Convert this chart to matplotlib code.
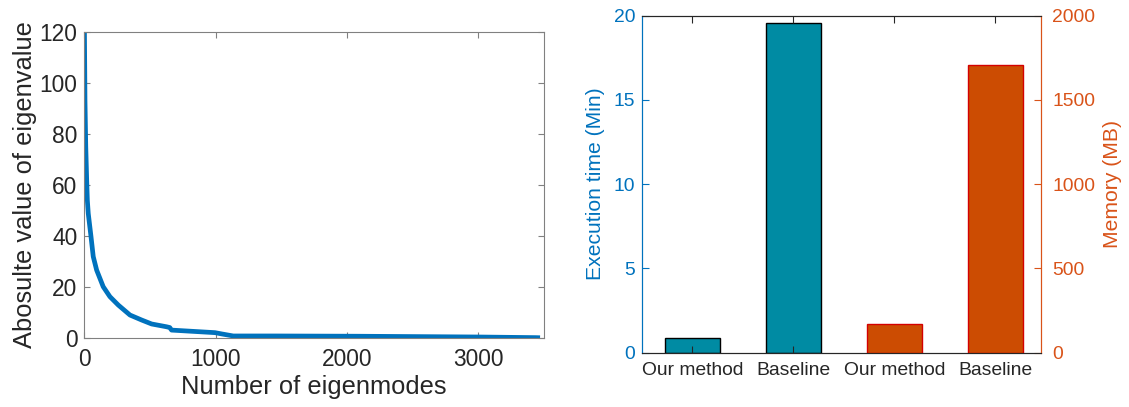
import matplotlib.pyplot as plt
import numpy as np

plt.rcParams['font.family'] = ['Liberation Sans', 'DejaVu Sans']

# eigenvalue spectrum (sorted, absolute value)
modes = [0, 4, 10, 17, 22, 29, 50, 67, 93, 143, 194, 258, 347, 436, 512,
         626, 650, 664, 995, 1046, 1134, 1452, 2077, 3000, 3437, 3472]
eigvals = [120, 93, 75, 62, 54, 48.8, 39.7, 31.9, 26.6, 20.1, 16.2, 12.9,
           9.0, 7.05, 5.5, 4.4, 4.1, 3.1, 2.1, 1.6, 0.8, 0.8, 0.7, 0.4,
           0.15, 0.1]

# cost comparison
methods = ["Our method", "Baseline", "Our method", "Baseline"]
exec_time = [0.87, 19.58]       # minutes
memory = [170, 1707]            # MB

BLUE = "#0072BD"
ORANGE = "#D95319"
DARK = "#262626"

fig = plt.figure(figsize=(11.29, 4.07), dpi=100)

# --- left: eigenvalue decay ---
ax1 = fig.add_axes([0.0748, 0.1695, 0.4068, 0.7526])
ax1.plot(modes, eigvals, color=BLUE, lw=3.4, solid_capstyle='butt')
ax1.set_xlim(0, 3500)
ax1.set_ylim(0, 120)
ax1.set_xticks([0, 1000, 2000, 3000])
ax1.set_yticks(np.arange(0, 121, 20))
ax1.tick_params(direction='in', top=True, right=True, labelsize=16.4,
                colors='#808080', labelcolor=DARK, length=4)
ax1.tick_params(axis='x', pad=7)
ax1.tick_params(axis='y', pad=5)
for s in ax1.spines.values():
    s.set_color('#808080')
ax1.set_xlabel("Number of eigenmodes", fontsize=18.4, color=DARK, labelpad=3)
ax1.set_ylabel("Abosulte value of eigenvalue", fontsize=18.4, color=DARK,
               labelpad=2)

# --- right: execution time and memory ---
ax2 = fig.add_axes([0.5686, 0.1334, 0.3534, 0.8285])
x = np.arange(1, 5)
ax2.bar(x[:2], exec_time, width=0.55, color="#008BA3", edgecolor="black", lw=1.0)
ax2.set_xlim(0.5, 4.45)
ax2.set_ylim(0, 20)
ax2.set_yticks([0, 5, 10, 15, 20])
ax2.set_xticks(x)
ax2.set_xticklabels(methods, fontsize=13.9, color=DARK)
ax2.tick_params(axis='x', direction='in', top=True, length=5, colors=DARK,
                labelcolor=DARK, pad=7)
ax2.tick_params(axis='y', direction='in', length=5, colors=BLUE,
                labelsize=13.9, pad=5)
ax2.set_ylabel("Execution time (Min)", fontsize=15.2, color=BLUE, labelpad=6)

ax3 = ax2.twinx()
ax3.bar(x[2:], memory, width=0.55, color="#CC4C02", edgecolor="#D40000", lw=1.0)
ax3.set_ylim(0, 2000)
ax3.set_yticks([0, 500, 1000, 1500, 2000])
ax3.tick_params(axis='y', direction='in', length=5, colors=ORANGE,
                labelsize=13.9, pad=8)
ax3.set_ylabel("Memory (MB)", fontsize=15.2, color=ORANGE, labelpad=6)

for a in (ax2, ax3):
    a.spines['left'].set_color(BLUE)
    a.spines['right'].set_color(ORANGE)
    a.spines['top'].set_color(DARK)
    a.spines['bottom'].set_color(DARK)

fig.savefig("out.png", dpi=100)
